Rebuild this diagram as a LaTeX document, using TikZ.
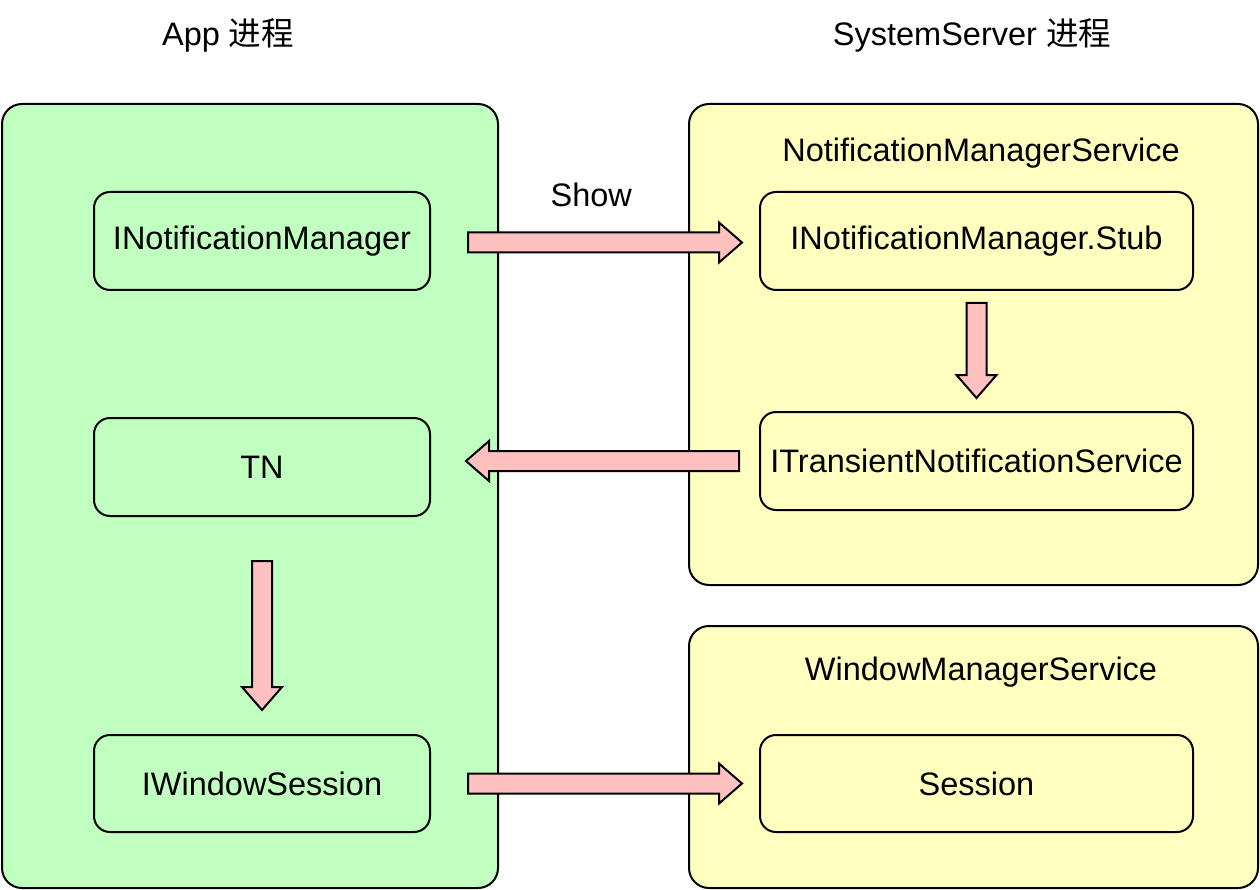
\documentclass[tikz,border=0pt]{standalone}
\usepackage{fontspec}
\setmainfont{Liberation Sans}
\newfontfamily\cjk{Noto Sans CJK SC}
\usetikzlibrary{calc}
\definecolor{gfill}{HTML}{C0FFC0}
\definecolor{yfill}{HTML}{FFFFC0}
\definecolor{afill}{HTML}{FFC0C0}
\begin{document}
\begin{tikzpicture}[x=1pt,y=-1pt,
  txt/.style={font=\fontsize{32.5}{38}\selectfont, inner sep=0pt},
  group/.style={draw=black, line width=2pt, rounded corners=20pt},
  inbox/.style={draw=black, line width=2pt, rounded corners=16pt, txt},
  barrow/.style={draw=black, line width=2pt, fill=afill, line join=miter}]
\useasboundingbox (0,0) rectangle (1260,890);
% titles
\node[txt] (t1) at (228,35) {App {\cjk 进程}};
\node[txt] (t2) at (972,35) {SystemServer {\cjk 进程}};
% groups
\draw[group, fill=gfill] (2,104) rectangle (498,888);
\draw[group, fill=yfill] (689,104) rectangle (1258,585);
\draw[group, fill=yfill] (689,626) rectangle (1258,888);
\node[txt] (nms) at (981,153) {NotificationManagerService};
\node[txt] (wms) at (981,672) {WindowManagerService};
% inner boxes
\node[inbox, fill=gfill, minimum width=336pt, minimum height=98pt] (inm) at (262,241) {INotificationManager};
\node[inbox, fill=gfill, minimum width=336pt, minimum height=98pt] (tn) at (262,467) {TN};
\node[inbox, fill=gfill, minimum width=336pt, minimum height=97pt] (iws) at (262,783.5) {IWindowSession};
\node[inbox, fill=yfill, minimum width=433pt, minimum height=98pt] (stub) at (976.5,241) {INotificationManager.Stub};
\node[inbox, fill=yfill, minimum width=433pt, minimum height=98pt] (itns) at (976.5,461) {ITransientNotificationService};
\node[inbox, fill=yfill, minimum width=433pt, minimum height=97pt] (sess) at (976.5,783.5) {Session};
% arrows
% Show arrow (right)
\coordinate (a1s) at ($(inm.east)+(37,1.5)$);
\coordinate (a1e) at ($(stub.west)+(-17,1.5)$);
\draw[barrow] ($(a1s)+(0,-10)$) -- ($(a1e)+(-23,-10)$) -- ($(a1e)+(-23,-20)$) -- (a1e)
  -- ($(a1e)+(-23,20)$) -- ($(a1e)+(-23,10)$) -- ($(a1s)+(0,10)$) -- cycle;
\node[txt] (show) at ($(a1s)!0.45!(a1e)+(0,-48)$) {Show};
% down arrow right
\coordinate (a2s) at ($(stub.south)+(0,12)$);
\coordinate (a2e) at ($(itns.north)+(0,-13)$);
\draw[barrow] ($(a2s)+(-10,0)$) -- ($(a2e)+(-10,-23)$) -- ($(a2e)+(-20,-23)$) -- (a2e)
  -- ($(a2e)+(20,-23)$) -- ($(a2e)+(10,-23)$) -- ($(a2s)+(10,0)$) -- cycle;
% left arrow
\coordinate (a3s) at ($(itns.west)+(-20,0)$);
\coordinate (a3e) at ($(tn.east)+(35,-6)$);
\draw[barrow] ($(a3s)+(0,-10)$) -- ($(a3e)+(23,-10)$) -- ($(a3e)+(23,-20)$) -- (a3e)
  -- ($(a3e)+(23,20)$) -- ($(a3e)+(23,10)$) -- ($(a3s)+(0,10)$) -- cycle;
% down arrow left
\coordinate (a4s) at ($(tn.south)+(0,44)$);
\coordinate (a4e) at ($(iws.north)+(0,-24)$);
\draw[barrow] ($(a4s)+(-10,0)$) -- ($(a4e)+(-10,-23)$) -- ($(a4e)+(-20,-23)$) -- (a4e)
  -- ($(a4e)+(20,-23)$) -- ($(a4e)+(10,-23)$) -- ($(a4s)+(10,0)$) -- cycle;
% bottom arrow
\coordinate (a5s) at ($(iws.east)+(37,0)$);
\coordinate (a5e) at ($(sess.west)+(-17,0)$);
\draw[barrow] ($(a5s)+(0,-10)$) -- ($(a5e)+(-23,-10)$) -- ($(a5e)+(-23,-20)$) -- (a5e)
  -- ($(a5e)+(-23,20)$) -- ($(a5e)+(-23,10)$) -- ($(a5s)+(0,10)$) -- cycle;
\end{tikzpicture}
\end{document}
